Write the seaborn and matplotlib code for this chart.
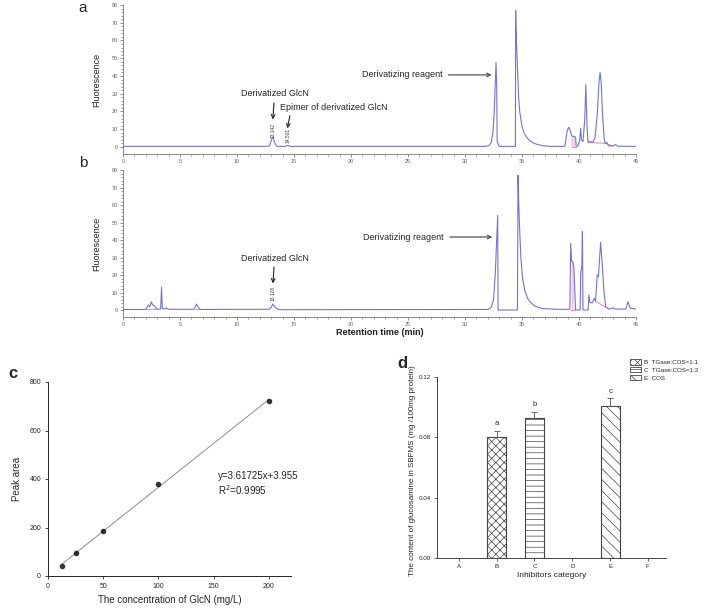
import matplotlib
matplotlib.use("Agg")
import matplotlib.pyplot as plt
import numpy as np
import pandas as pd
import seaborn as sns
from matplotlib.patches import Patch

# ---------------- data ----------------
# Chromatogram a (retention time in min, fluorescence)
a_time = [0, 12.5, 12.8, 12.9, 13.0, 13.07, 13.14, 13.22, 13.3, 13.45, 13.6, 14.2, 14.38, 14.45, 14.55, 14.7,
          31.8, 32.1, 32.3, 32.45, 32.55, 32.65, 32.72, 32.78, 32.82, 33.0, 34.42, 34.44, 34.5, 34.6, 34.7,
          34.8, 35.0, 35.2, 35.4, 35.6, 36.0, 36.3, 36.8, 37.5, 38.75, 38.85, 38.95, 39.05, 39.1, 39.2,
          39.3, 39.35, 39.5, 39.7, 39.75, 39.9, 40.05, 40.15, 40.22, 40.35, 40.5, 40.6, 40.7, 40.8, 41.0,
          41.2, 41.4, 41.6, 41.75, 41.85, 41.95, 42.05, 42.2, 42.3, 42.45, 42.6, 43.0, 43.2, 43.4, 45.0]
a_signal = [0.3, 0.3, 0.5, 1.5, 3.5, 4.8, 5.3, 4.2, 2.5, 0.6, 0.3, 0.3, 0.7, 0.9, 0.6, 0.3,
            0.3, 0.8, 2.5, 8, 18, 35, 47.5, 35, 3, 0.3, 0.3, 77, 62, 45, 28,
            20, 11.5, 7.5, 5.5, 4, 2.2, 1.5, 0.7, 0.3, 0.3, 4, 8.5, 10.5, 11, 10,
            7.5, 6.2, 6, 5.5, 0.4, 0.5, 3, 10.3, 4, 3, 15, 35, 12, 2.5, 3,
            2.5, 5, 18, 36, 42, 36, 20, 5, 2, 2.5, 0.6, 0.5, 1.3, 0.4, 0.3]

# Chromatogram b
b_time = [0, 2.0, 2.15, 2.25, 2.35, 2.48, 2.6, 2.75, 2.9, 3.0, 3.3, 3.38, 3.45, 3.6, 3.8, 4.0,
          6.2, 6.35, 6.45, 6.6, 6.8, 12.8, 13.0, 13.15, 13.35, 13.6, 14.0, 32.0, 32.3, 32.5, 32.65,
          32.78, 32.87, 32.9, 34.6, 34.65, 34.72, 34.8, 34.9, 35.05, 35.25, 35.5, 35.8, 36.2, 36.8,
          38.0, 39.2, 39.27, 39.35, 39.45, 39.55, 39.7, 40.1, 40.15, 40.25, 40.3, 40.35, 40.8, 40.87,
          40.95, 41.15, 41.35, 41.45, 41.6, 41.7, 41.9, 42.05, 42.2, 42.35, 42.6, 43.0, 43.2, 44.1,
          44.3, 44.5, 45.0]
b_signal = [0.3, 0.3, 2, 2.9, 1.8, 4.7, 3, 2.5, 1, 0.5, 0.5, 13, 1, 0.5, 1.2, 0.4,
            0.4, 2, 3.4, 1.5, 0.3, 0.4, 1.5, 3.4, 1.5, 0.4, 0.2, 0.3, 1.5, 6, 20,
            40, 54, 0, 0, 77, 60, 45, 30, 18, 11, 6.5, 4, 2, 0.8,
            0.4, 0.4, 38, 28, 27.6, 25, 0, 0, 21, 25, 44.8, 0, 0, 8.6,
            4.5, 4, 6.7, 5, 20, 19, 38.7, 25, 9.7, 2, 0.5, 1.2, 0.5, 0.5,
            4.7, 1, 0.5]

# integration baselines (pink) : (t0, v0, t1, v1)
a_baselines = [(39.35, 0, 39.75, 0), (40.8, 2.5, 42.3, 2.0), (42.3, 2.0, 43.0, 0.5)]
b_baselines = [(2.1, 0.3, 3.0, 0.5), (39.3, 0, 39.65, 0), (41.45, 5.0, 42.35, 1.5), (6.3, 0.3, 6.8, 0.3)]
a_fill = (39.35, 39.72)
b_fill = [(39.28, 39.65), (40.16, 40.33)]

# Calibration curve (panel c)
conc = [12.5, 25, 50, 100, 200]
peak_area = [40, 95, 187, 378, 722]

# Glucosamine content (panel d)
categories = ["A", "B", "C", "D", "E", "F"]
bar_cats = ["B", "C", "E"]
bar_vals = [0.0805, 0.0925, 0.101]
bar_errs = [0.004, 0.0042, 0.0048]
bar_letters = ["a", "b", "c"]
legend_labels = ["B  TGase:COS=1:1", "C  TGase:COS=1:2", "E  COS"]
hatches = ["xxxx", "---", "\\\\\\"]

# ---------------- style ----------------
sns.set_style("ticks")
plt.rcParams["font.family"] = ["Liberation Sans", "DejaVu Sans"]
plt.rcParams["hatch.linewidth"] = 0.5
plt.rcParams["hatch.color"] = "#444444"

W, H = 707, 608
fig = plt.figure(figsize=(W / 100, H / 100), dpi=100)


def rect(l, t, r, b):
    return [l / W, 1 - b / H, (r - l) / W, (b - t) / H]


ax_a = fig.add_axes(rect(123, 5, 636, 154))
ax_b = fig.add_axes(rect(123, 170, 636, 317))
ax_c = fig.add_axes(rect(48, 382, 291, 576))
ax_d = fig.add_axes(rect(437, 377, 666, 558))

TRACE = "#7474d0"
PINK = "#e77bd0"


def style_chrom(ax):
    ax.set_xlim(0, 45)
    ax.set_ylim(-4, 80)
    sns.despine(ax=ax)
    for s in ("left", "bottom"):
        ax.spines[s].set_color("#777777")
        ax.spines[s].set_linewidth(0.6)
    ax.set_xticks(range(0, 46, 5))
    ax.set_xticks(range(0, 46, 1), minor=True)
    ax.set_yticks(range(0, 81, 10))
    ax.set_yticks(range(0, 81, 2), minor=True)
    ax.tick_params(which="major", labelsize=4, colors="#666666", length=2, width=0.5, pad=1.5)
    ax.tick_params(which="minor", colors="#777777", length=1.2, width=0.5)
    ax.set_ylabel("Fluorescence", fontsize=6.5, color="#222222")
    ax.yaxis.set_label_coords(-0.042, 0.5)
    ax.set_xlabel("")


def draw_chrom(ax, t, v, baselines, fills):
    tt = np.array(t)
    vv = np.array(v)
    for (lo, hi) in fills:
        m = (tt >= lo) & (tt <= hi)
        ax.fill_between(tt[m], 0, vv[m], color=PINK, alpha=0.35, lw=0, hatch="||||", edgecolor=PINK)
    for (t0, v0, t1, v1) in baselines:
        ax.plot([t0, t1], [v0, v1], color=PINK, lw=0.7)
    sns.lineplot(x=t, y=v, ax=ax, estimator=None, sort=False, color=TRACE, lw=0.8)


draw_chrom(ax_a, a_time, a_signal, a_baselines, [a_fill])
draw_chrom(ax_b, b_time, b_signal, b_baselines, b_fill)
style_chrom(ax_a)
style_chrom(ax_b)
ax_b.set_xlabel("Retention time (min)", fontsize=6.5, fontweight="bold", color="#222222")
ax_b.xaxis.set_label_coords(0.5, -0.072)

arrow_k = dict(arrowstyle="->", color="#222222", lw=0.8, shrinkA=1, shrinkB=0)
gray_k = dict(arrowstyle="->", color="#555555", lw=0.9, shrinkA=2, shrinkB=0)

# annotations panel a
ax_a.annotate("Derivatized GlcN", xy=(13.14, 15.5), xytext=(13.3, 29.9), ha="center", va="center",
              fontsize=6.5, arrowprops=arrow_k)
ax_a.annotate("Epimer of derivatized GlcN", xy=(14.42, 10.5), xytext=(13.75, 22), ha="left", va="center",
              fontsize=6.5, arrowprops=dict(arrowstyle="->", color="#222222", lw=0.8, shrinkA=0, shrinkB=0,
                                            relpos=(0.1, 0.0)))
ax_a.annotate("Derivatizing reagent", xy=(32.35, 40.6), xytext=(28.0, 40.6), ha="right", va="center",
              fontsize=6.5, arrowprops=gray_k)
ax_a.text(13.14, 9.5, "13.142", rotation=90, fontsize=3.5, ha="center", va="center", color="#333355")
ax_a.text(14.5, 6.5, "14.501", rotation=90, fontsize=3.5, ha="center", va="center", color="#333355")

# annotations panel b
ax_b.annotate("Derivatized GlcN", xy=(13.15, 15.2), xytext=(13.3, 29.7), ha="center", va="center",
              fontsize=6.5, arrowprops=arrow_k)
ax_b.annotate("Derivatizing reagent", xy=(32.4, 41.7), xytext=(28.15, 41.7), ha="right", va="center",
              fontsize=6.5, arrowprops=gray_k)
ax_b.text(13.15, 9.2, "13.128", rotation=90, fontsize=3.5, ha="center", va="center", color="#333355")

fig.text(83 / W, 1 - 8 / H, "a", fontsize=11, ha="center", va="center")
fig.text(83 / W, 1 - 163 / H, "b", fontsize=11, ha="center", va="center")

# ---------------- panel c ----------------
sns.regplot(x=conc, y=peak_area, ci=None, ax=ax_c,
            scatter_kws=dict(s=16, color="black", zorder=3, linewidths=0),
            line_kws=dict(color="#8c8c8c", lw=0.7))
ax_c.set_xlim(0, 220)
ax_c.set_ylim(0, 800)
ax_c.set_xticks([0, 50, 100, 150, 200])
ax_c.set_yticks([0, 200, 400, 600, 800])
sns.despine(ax=ax_c)
for s in ("left", "bottom"):
    ax_c.spines[s].set_linewidth(0.7)
ax_c.tick_params(labelsize=5, length=2.5, width=0.6, pad=2.5)
ax_c.set_xlabel("The concentration of GlcN (mg/L)", fontsize=7)
ax_c.xaxis.set_label_coords(0.5, -0.1)
ax_c.set_ylabel("Peak area", fontsize=7)
ax_c.yaxis.set_label_coords(-0.108, 0.5)
ax_c.text(0.699, 0.473, "y=3.61725x+3.955\nR$^2$=0.9995", transform=ax_c.transAxes, fontsize=7,
          ha="left", va="center", linespacing=1.2)
fig.text(13 / W, 1 - 373 / H, "c", fontsize=12, fontweight="bold", ha="center", va="center")

# ---------------- panel d ----------------
df = pd.DataFrame({"cat": bar_cats, "val": bar_vals})
sns.barplot(data=df, x="cat", y="val", order=categories, width=0.5, color="white",
            edgecolor="#444444", linewidth=0.8, ax=ax_d, errorbar=None)
for patch, h in zip(ax_d.patches, hatches):
    patch.set_hatch(h)
    patch.set_facecolor("white")
    patch.set_edgecolor("#444444")
pos = [categories.index(c) for c in bar_cats]
ax_d.errorbar(pos, bar_vals, yerr=[[0] * len(bar_errs), bar_errs], fmt="none", ecolor="#555555",
              capsize=2, elinewidth=0.6, capthick=0.6)
for p, v, e, l in zip(pos, bar_vals, bar_errs, bar_letters):
    ax_d.text(p, v + e + 0.0025, l, ha="center", va="bottom", fontsize=5.5)
ax_d.set_xlim(-0.58, 5.48)
ax_d.set_ylim(0, 0.12)
ax_d.set_yticks([0, 0.04, 0.08, 0.12])
ax_d.set_yticklabels(["0.00", "0.04", "0.08", "0.12"])
sns.despine(ax=ax_d)
for s in ("left", "bottom"):
    ax_d.spines[s].set_linewidth(0.7)
    ax_d.spines[s].set_color("#444444")
ax_d.tick_params(labelsize=4.5, length=2, width=0.5, pad=2)
ax_d.set_xlabel("Inhibitors category", fontsize=6)
ax_d.xaxis.set_label_coords(0.5, -0.075)
ax_d.set_ylabel("The content of glucosamine in SBFMS (mg /100mg protein)", fontsize=5.8)
ax_d.yaxis.set_label_coords(-0.09, 0.48)
fig.text(402 / W, 1 - 363 / H, "d", fontsize=12, fontweight="bold", ha="center", va="center")

handles = [Patch(facecolor="white", edgecolor="#444444", hatch=h, lw=0.6, label=l)
           for h, l in zip(hatches, legend_labels)]
fig.legend(handles=handles, loc="upper left", bbox_to_anchor=(630 / W, 1 - 359 / H), frameon=False,
           fontsize=4.5, handlelength=1.8, handleheight=1.0, labelspacing=0.3, handletextpad=0.4,
           borderpad=0, borderaxespad=0)

fig.savefig("out.png", dpi=100)
